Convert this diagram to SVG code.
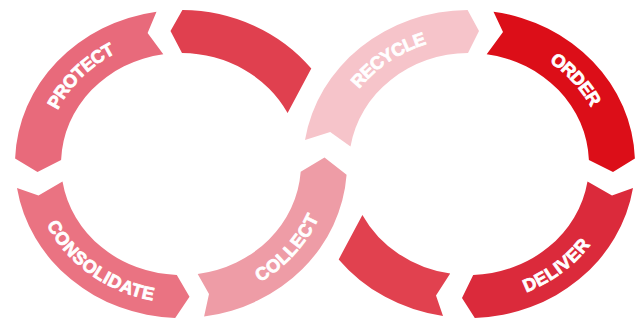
<svg xmlns="http://www.w3.org/2000/svg" width="644" height="320" viewBox="0 0 644 320">
<style>
.lbl{font-family:"Liberation Sans","Arial",sans-serif;font-weight:bold;font-size:18px;fill:#ffffff;stroke:#ffffff;stroke-width:0.8;stroke-linejoin:round;}
</style>
<defs>
<path id="tpProtect" d="M 45.0 204.9 A 143 132.5 0 0 1 210.7 34.4"/>
<path id="tpConsolidate" d="M 45.8 120.9 A 143 132.5 0 0 0 254.6 277.6"/>
<path id="tpCollect" d="M 158.6 294.9 A 143 132.5 0 0 0 314.5 116.5"/>
<path id="tpRecycle" d="M 327.1 180.2 A 143 132.5 0 0 1 524.9 42.0"/>
<path id="tpOrder" d="M 470.7 31.5 A 143 132.5 0 0 1 609.5 188.6"/>
<path id="tpDeliver" d="M 420.1 288.5 A 143 132.5 0 0 0 609.8 141.0"/>
</defs>
<rect width="644" height="320" fill="#ffffff"/>

<g id="left-top">
<path fill="#e0404f" d="M 182.4 10.0 A 166 154 0 0 1 311.3 68.6 L 287.6 113.1 A 120 111 0 0 0 182.0 53.0 L 170.5 31.0 Z"/>
</g>
<g id="protect">
<path fill="#e86a7b" d="M 15.1 158.6 A 166 154 0 0 1 156.5 11.7 L 147.6 33.0 L 163.3 54.2 A 120 111 0 0 0 61.1 160.1 L 37.5 172.0 Z"/>
<text class="lbl" dy="0.36em"><textPath href="#tpProtect" startOffset="50%" text-anchor="middle">PROTECT</textPath></text>
</g>
<g id="consolidate">
<path fill="#ea7382" d="M 175.2 317.9 A 166 154 0 0 1 17.0 188.1 L 38.5 195.5 L 62.5 181.4 A 120 111 0 0 0 176.8 274.9 L 189.5 296.8 Z"/>
<text class="lbl" dy="0.36em"><textPath href="#tpConsolidate" startOffset="50%" text-anchor="middle">CONSOLIDATE</textPath></text>
</g>
<g id="collect">
<path fill="#ee9ca6" d="M 346.6 174.7 A 166 154 0 0 1 204.1 316.5 L 209.0 294.0 L 197.7 273.9 A 120 111 0 0 0 300.7 171.7 L 324.5 157.5 Z"/>
<text class="lbl" dy="0.36em"><textPath href="#tpCollect" startOffset="50%" text-anchor="middle">COLLECT</textPath></text>
</g>

<g id="recycle">
<path fill="#f6c4ca" d="M 305.0 139.9 A 166 154 0 0 1 467.6 10.0 L 479.0 31.0 L 468.0 53.0 A 120 111 0 0 0 350.5 146.6 L 330.2 131.9 Z"/>
<text class="lbl" dy="0.36em"><textPath href="#tpRecycle" startOffset="50%" text-anchor="middle">RECYCLE</textPath></text>
</g>
<g id="order">
<path fill="#dc0e18" d="M 493.5 11.7 A 166 154 0 0 1 634.9 158.6 L 613.0 172.0 L 588.9 160.1 A 120 111 0 0 0 486.7 54.2 L 503.0 32.0 Z"/>
<text class="lbl" dy="0.36em"><textPath href="#tpOrder" startOffset="50%" text-anchor="middle">ORDER</textPath></text>
</g>
<g id="deliver">
<path fill="#db2a3b" d="M 633.0 188.1 A 166 154 0 0 1 474.8 317.9 L 462.0 298.0 L 473.2 274.9 A 120 111 0 0 0 587.5 181.4 L 612.0 195.5 Z"/>
<text class="lbl" dy="0.36em"><textPath href="#tpDeliver" startOffset="50%" text-anchor="middle">DELIVER</textPath></text>
</g>
<g id="right-bottom">
<path fill="#e1414f" d="M 443.0 316.1 A 166 154 0 0 1 338.7 259.4 L 362.4 214.9 A 120 111 0 0 0 450.2 273.6 L 436.0 295.5 Z"/>
</g>
</svg>
